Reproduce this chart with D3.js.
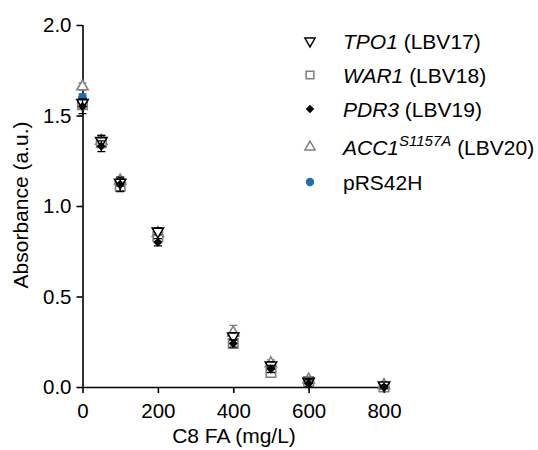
<!DOCTYPE html>
<html><head><meta charset="utf-8">
<script src="https://cdn.jsdelivr.net/npm/d3@7"></script>
<style>body{margin:0;background:#fff}svg{display:block}text{font-family:"Liberation Sans",Arial,sans-serif}</style>
</head><body><svg id="c" width="538" height="450"></svg>
<script>
const concentrations = [0, 50, 100, 200, 400, 500, 600, 800];
const tpo1 = [1.57, 1.36, 1.13, 0.86, 0.28, 0.12, 0.03, 0.01];
const tpo1Err = [0.02, 0.03, 0.02, 0.02, 0.02, 0.02, 0.01, 0.01];
const war1 = [1.56, 1.35, 1.11, 0.83, 0.24, 0.08, 0.03, 0.00];
const war1Err = [0.02, 0.02, 0.02, 0.02, 0.02, 0.02, 0.01, 0.01];
const pdr3 = [1.55, 1.33, 1.12, 0.80, 0.24, 0.10, 0.02, 0.00];
const pdr3Err = [0.04, 0.03, 0.04, 0.02, 0.02, 0.02, 0.02, 0.01];
const acc1 = [1.66, 1.36, 1.14, 0.85, 0.30, 0.13, 0.04, 0.01];
const acc1Err = [0.02, 0.02, 0.02, 0.02, 0.04, 0.02, 0.01, 0.01];
const prs42h = [1.60, 1.37, 1.11, 0.83, 0.26, 0.12, 0.03, 0.01];
const prs42hErr = [0.02, 0.02, 0.02, 0.02, 0.02, 0.02, 0.01, 0.01];
const xTicks = [0, 200, 400, 600, 800];
const yTicks = [0, 0.5, 1.0, 1.5, 2.0];

const series = [
  {name:"pRS42H", vals:prs42h, err:prs42hErr, sym:d3.symbolCircle, size:60, fill:"#1f6eb0", stroke:"none"},
  {name:"ACC1", vals:acc1, err:acc1Err, sym:d3.symbolTriangle, size:55, fill:"#fff", stroke:"#808080"},
  {name:"WAR1", vals:war1, err:war1Err, sym:d3.symbolSquare, size:90, fill:"#fff", stroke:"#808080"},
  {name:"TPO1", vals:tpo1, err:tpo1Err, sym:d3.symbolTriangle, size:55, fill:"#fff", stroke:"#000", rot:180},
  {name:"PDR3", vals:pdr3, err:pdr3Err, sym:d3.symbolSquare, size:40, fill:"#000", stroke:"none", rot:45}
];

const svg = d3.select("#c");
const x = d3.scaleLinear().domain([0, 800]).range([82.5, 384]);
const y = d3.scaleLinear().domain([0, 2]).range([387, 25]);

const gx = svg.append("g").attr("transform", "translate(0,387)")
  .call(d3.axisBottom(x).tickValues(xTicks).tickSize(6).tickPadding(10).tickFormat(d3.format("d")));
const gy = svg.append("g").attr("transform", "translate(82.5,0)")
  .call(d3.axisLeft(y).tickValues(yTicks).tickSize(6).tickPadding(5).tickFormat(d3.format(".1f")));
[gx, gy].forEach(g => {
  g.select(".domain").attr("stroke", "#000").attr("stroke-width", 1.6);
  g.selectAll(".tick line").attr("stroke", "#000").attr("stroke-width", 1.6);
  g.selectAll(".tick text").attr("font-size", 20.5).attr("fill", "#000").attr("font-family", "Liberation Sans, Arial, sans-serif");
});
gx.select(".domain").attr("d", "M82.5,0.5H384");
gy.select(".domain").attr("d", "M0.5,25V387");

svg.append("text").attr("x", 234).attr("y", 443).attr("text-anchor", "middle").attr("font-size", 21).text("C8 FA (mg/L)");
svg.append("text").attr("transform", "translate(28,205) rotate(-90)").attr("text-anchor", "middle").attr("font-size", 21).text("Absorbance (a.u.)");

const plot = svg.append("g");
series.forEach(s => {
  const g = plot.append("g");
  concentrations.forEach((c, i) => {
    const cx = x(c), v = s.vals[i], e = s.err[i];
    const col = s.stroke === "none" ? s.fill : s.stroke;
    g.append("path").attr("d", `M${cx},${y(v - e)}V${y(v + e)}M${cx - 4},${y(v - e)}H${cx + 4}M${cx - 4},${y(v + e)}H${cx + 4}`)
      .attr("stroke", col).attr("stroke-width", 1.3).attr("fill", "none");
    g.append("path").attr("d", d3.symbol().type(s.sym).size(s.size)())
      .attr("transform", `translate(${cx},${y(v)})` + (s.rot ? ` rotate(${s.rot})` : ""))
      .attr("fill", s.fill).attr("stroke", s.stroke).attr("stroke-width", 1.6);
  });
});

const legendRows = [
  {sym:d3.symbolTriangle, size:45, fill:"#fff", stroke:"#000", rot:180, it:"TPO1", sup:"", rest:" (LBV17)", y:41},
  {sym:d3.symbolSquare, size:60, fill:"#fff", stroke:"#808080", it:"WAR1", sup:"", rest:" (LBV18)", y:75},
  {sym:d3.symbolSquare, size:36, fill:"#000", stroke:"none", rot:45, it:"PDR3", sup:"", rest:" (LBV19)", y:109},
  {sym:d3.symbolTriangle, size:45, fill:"#fff", stroke:"#808080", it:"ACC1", sup:"S1157A", rest:" (LBV20)", y:147},
  {sym:d3.symbolCircle, size:55, fill:"#1f6eb0", stroke:"none", it:"", sup:"", rest:"pRS42H", y:182}
];
const lg = svg.append("g");
legendRows.forEach(r => {
  lg.append("path").attr("d", d3.symbol().type(r.sym).size(r.size)())
    .attr("transform", `translate(310,${r.y})` + (r.rot ? ` rotate(${r.rot})` : ""))
    .attr("fill", r.fill).attr("stroke", r.stroke).attr("stroke-width", 1.5);
  const t = lg.append("text").attr("x", 343).attr("y", r.y + 7.5).attr("font-size", 21);
  if (r.it) t.append("tspan").attr("font-style", "italic").text(r.it);
  if (r.sup) t.append("tspan").attr("font-style", "italic").attr("font-size", 15).attr("dy", -9).text(r.sup);
  t.append("tspan").attr("dy", r.sup ? 9 : 0).text(r.rest);
});
</script></body></html>
